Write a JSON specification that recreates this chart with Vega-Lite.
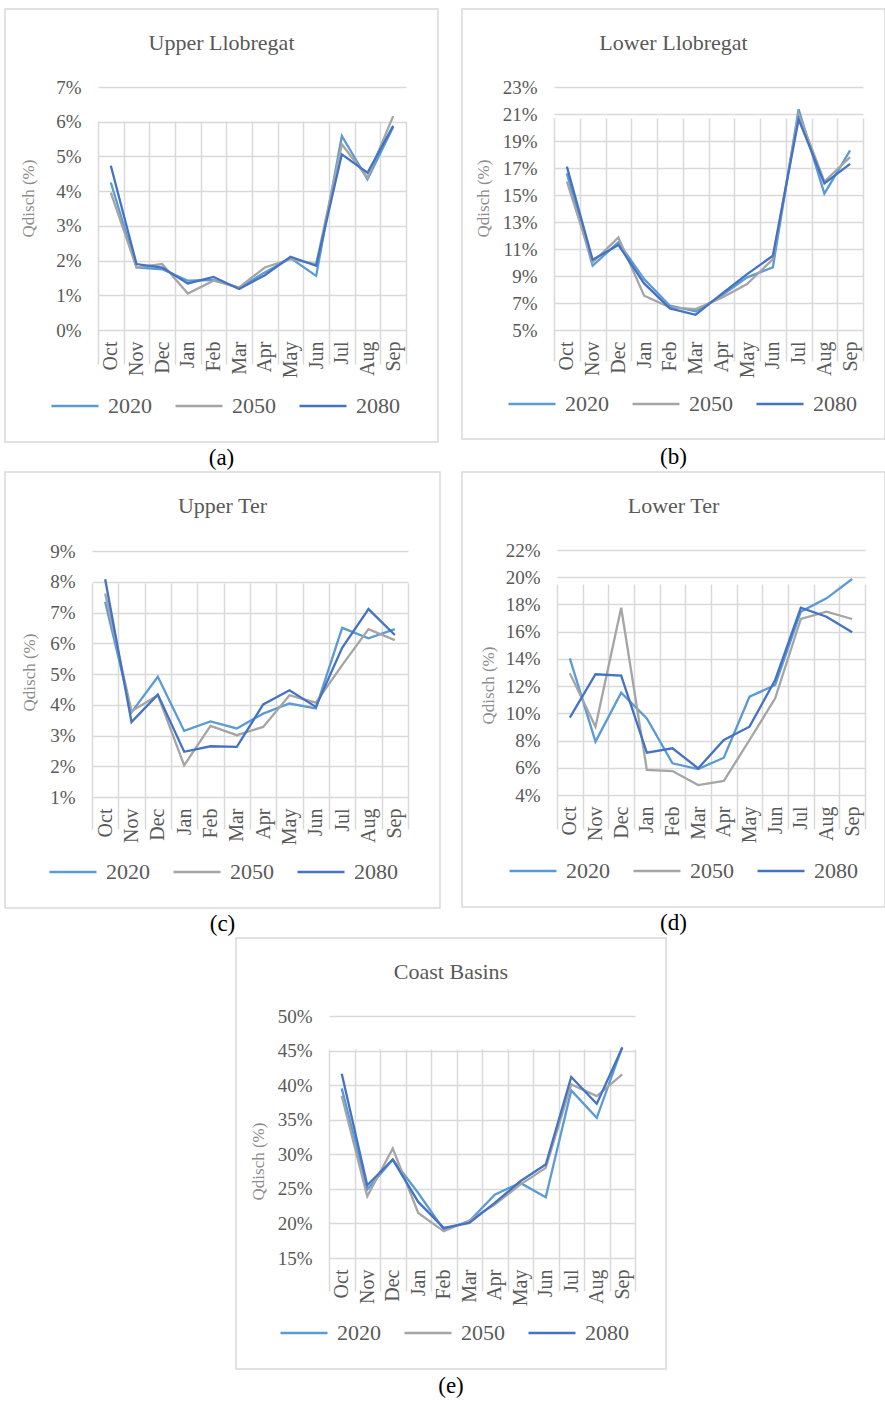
{
  "$schema": "https://vega.github.io/schema/vega-lite/v6.json",
  "background": "white",
  "padding": {"left": -6, "top": 8, "right": 0, "bottom": 0},
  "datasets": {
    "flows": [
      {"basin": "Upper Llobregat", "month": "Oct", "2020": 4.25, "2050": 3.96, "2080": 4.73},
      {"basin": "Upper Llobregat", "month": "Nov", "2020": 1.80, "2050": 1.80, "2080": 1.90},
      {"basin": "Upper Llobregat", "month": "Dec", "2020": 1.75, "2050": 1.90, "2080": 1.80},
      {"basin": "Upper Llobregat", "month": "Jan", "2020": 1.42, "2050": 1.05, "2080": 1.34},
      {"basin": "Upper Llobregat", "month": "Feb", "2020": 1.44, "2050": 1.42, "2080": 1.53},
      {"basin": "Upper Llobregat", "month": "Mar", "2020": 1.21, "2050": 1.23, "2080": 1.18},
      {"basin": "Upper Llobregat", "month": "Apr", "2020": 1.66, "2050": 1.80, "2080": 1.58},
      {"basin": "Upper Llobregat", "month": "May", "2020": 2.07, "2050": 2.04, "2080": 2.11},
      {"basin": "Upper Llobregat", "month": "Jun", "2020": 1.56, "2050": 1.90, "2080": 1.85},
      {"basin": "Upper Llobregat", "month": "Jul", "2020": 5.59, "2050": 5.35, "2080": 5.06},
      {"basin": "Upper Llobregat", "month": "Aug", "2020": 4.34, "2050": 4.39, "2080": 4.53},
      {"basin": "Upper Llobregat", "month": "Sep", "2020": 5.85, "2050": 6.16, "2080": 5.88},
      {"basin": "Lower Llobregat", "month": "Oct", "2020": 16.6, "2050": 16.0, "2080": 17.1},
      {"basin": "Lower Llobregat", "month": "Nov", "2020": 9.76, "2050": 10.0, "2080": 10.2},
      {"basin": "Lower Llobregat", "month": "Dec", "2020": 11.5, "2050": 11.85, "2080": 11.3},
      {"basin": "Lower Llobregat", "month": "Jan", "2020": 8.77, "2050": 7.54, "2080": 8.45},
      {"basin": "Lower Llobregat", "month": "Feb", "2020": 6.8, "2050": 6.68, "2080": 6.6},
      {"basin": "Lower Llobregat", "month": "Mar", "2020": 6.38, "2050": 6.55, "2080": 6.13},
      {"basin": "Lower Llobregat", "month": "Apr", "2020": 7.54, "2050": 7.37, "2080": 7.66},
      {"basin": "Lower Llobregat", "month": "May", "2020": 8.9, "2050": 8.4, "2080": 9.14},
      {"basin": "Lower Llobregat", "month": "Jun", "2020": 9.64, "2050": 10.25, "2080": 10.5},
      {"basin": "Lower Llobregat", "month": "Jul", "2020": 21.35, "2050": 21.0, "2080": 20.6},
      {"basin": "Lower Llobregat", "month": "Aug", "2020": 15.1, "2050": 16.0, "2080": 15.85},
      {"basin": "Lower Llobregat", "month": "Sep", "2020": 18.3, "2050": 17.8, "2080": 17.3},
      {"basin": "Upper Ter", "month": "Oct", "2020": 7.35, "2050": 7.62, "2080": 8.08},
      {"basin": "Upper Ter", "month": "Nov", "2020": 3.75, "2050": 3.79, "2080": 3.44},
      {"basin": "Upper Ter", "month": "Dec", "2020": 4.91, "2050": 4.31, "2080": 4.33},
      {"basin": "Upper Ter", "month": "Jan", "2020": 3.15, "2050": 2.03, "2080": 2.47},
      {"basin": "Upper Ter", "month": "Feb", "2020": 3.46, "2050": 3.31, "2080": 2.65},
      {"basin": "Upper Ter", "month": "Mar", "2020": 3.23, "2050": 3.01, "2080": 2.63},
      {"basin": "Upper Ter", "month": "Apr", "2020": 3.71, "2050": 3.28, "2080": 4.01},
      {"basin": "Upper Ter", "month": "May", "2020": 4.04, "2050": 4.31, "2080": 4.47},
      {"basin": "Upper Ter", "month": "Jun", "2020": 3.88, "2050": 4.07, "2080": 3.93},
      {"basin": "Upper Ter", "month": "Jul", "2020": 6.5, "2050": 5.29, "2080": 5.85},
      {"basin": "Upper Ter", "month": "Aug", "2020": 6.16, "2050": 6.46, "2080": 7.11},
      {"basin": "Upper Ter", "month": "Sep", "2020": 6.46, "2050": 6.1, "2080": 6.27},
      {"basin": "Lower Ter", "month": "Oct", "2020": 14.04, "2050": 12.94, "2080": 9.68},
      {"basin": "Lower Ter", "month": "Nov", "2020": 7.92, "2050": 9.02, "2080": 12.87},
      {"basin": "Lower Ter", "month": "Dec", "2020": 11.52, "2050": 17.76, "2080": 12.77},
      {"basin": "Lower Ter", "month": "Jan", "2020": 9.63, "2050": 5.84, "2080": 7.11},
      {"basin": "Lower Ter", "month": "Feb", "2020": 6.33, "2050": 5.76, "2080": 7.43},
      {"basin": "Lower Ter", "month": "Mar", "2020": 5.91, "2050": 4.73, "2080": 5.96},
      {"basin": "Lower Ter", "month": "Apr", "2020": 6.74, "2050": 5.03, "2080": 8.04},
      {"basin": "Lower Ter", "month": "May", "2020": 11.22, "2050": 8.04, "2080": 9.02},
      {"basin": "Lower Ter", "month": "Jun", "2020": 12.08, "2050": 11.1, "2080": 12.45},
      {"basin": "Lower Ter", "month": "Jul", "2020": 17.47, "2050": 16.93, "2080": 17.76},
      {"basin": "Lower Ter", "month": "Aug", "2020": 18.45, "2050": 17.47, "2080": 17.1},
      {"basin": "Lower Ter", "month": "Sep", "2020": 19.87, "2050": 16.93, "2080": 15.95},
      {"basin": "Coast Basins", "month": "Oct", "2020": 39.53, "2050": 38.42, "2080": 41.65},
      {"basin": "Coast Basins", "month": "Nov", "2020": 24.9, "2050": 23.93, "2080": 25.53},
      {"basin": "Coast Basins", "month": "Dec", "2020": 29.24, "2050": 30.84, "2080": 29.24},
      {"basin": "Coast Basins", "month": "Jan", "2020": 24.4, "2050": 21.52, "2080": 23.11},
      {"basin": "Coast Basins", "month": "Feb", "2020": 19.1, "2050": 18.86, "2080": 19.35},
      {"basin": "Coast Basins", "month": "Mar", "2020": 20.3, "2050": 20.41, "2080": 20.07},
      {"basin": "Coast Basins", "month": "Apr", "2020": 24.17, "2050": 22.73, "2080": 22.97},
      {"basin": "Coast Basins", "month": "May", "2020": 25.86, "2050": 25.62, "2080": 26.1},
      {"basin": "Coast Basins", "month": "Jun", "2020": 23.79, "2050": 28.04, "2080": 28.52},
      {"basin": "Coast Basins", "month": "Jul", "2020": 39.24, "2050": 40.1, "2080": 41.17},
      {"basin": "Coast Basins", "month": "Aug", "2020": 35.28, "2050": 38.42, "2080": 37.31},
      {"basin": "Coast Basins", "month": "Sep", "2020": 45.5, "2050": 41.56, "2080": 45.42}
    ]
  },
  "vconcat": [
    {
      "hconcat": [
        {
          "width": 433, "height": 433,
          "data": {"name": "flows"},
          "transform": [
            {"filter": "datum.basin === 'Upper Llobregat'"},
            {"fold": ["2020", "2050", "2080"], "as": ["year", "q"]}
          ],
          "title": {"text": "Upper Llobregat", "subtitle": "(a)", "offset": -409, "subtitlePadding": 392},
          "mark": {"type": "line", "strokeWidth": 2.3},
          "encoding": {
            "x": {"field": "month", "type": "nominal", "sort": ["Oct","Nov","Dec","Jan","Feb","Mar","Apr","May","Jun","Jul","Aug","Sep"],
                  "scale": {"type": "band", "range": [93, 401], "paddingInner": 0, "paddingOuter": 0},
                  "axis": {"title": null, "offset": -112, "tickBand": "extent"}},
            "y": {"field": "q", "type": "quantitative",
                  "scale": {"domain": [0, 7], "range": [321, 78], "nice": false, "zero": false},
                  "axis": {"title": "Qdisch (%)", "offset": -93, "values": [0,1,2,3,4,5,6,7], "labelExpr": "datum.value + '%'", "titleX": -70, "titleY": 189}},
            "color": {"field": "year", "type": "nominal",
                      "scale": {"domain": ["2020","2050","2080"], "range": ["#5b9bd5","#a5a5a5","#4472c4"]},
                      "legend": {"legendX": 45, "legendY": 372}}
          }
        },
        {
          "width": 423, "height": 430,
          "data": {"name": "flows"},
          "transform": [
            {"filter": "datum.basin === 'Lower Llobregat'"},
            {"fold": ["2020", "2050", "2080"], "as": ["year", "q"]}
          ],
          "title": {"text": "Lower Llobregat", "subtitle": "(b)", "offset": -406, "subtitlePadding": 391},
          "mark": {"type": "line", "strokeWidth": 2.3},
          "encoding": {
            "x": {"field": "month", "type": "nominal", "sort": ["Oct","Nov","Dec","Jan","Feb","Mar","Apr","May","Jun","Jul","Aug","Sep"],
                  "scale": {"type": "band", "range": [92, 401], "paddingInner": 0, "paddingOuter": 0},
                  "axis": {"title": null, "offset": -109, "tickBand": "extent"}},
            "y": {"field": "q", "type": "quantitative",
                  "scale": {"domain": [5, 23], "range": [321, 78], "nice": false, "zero": false},
                  "axis": {"title": "Qdisch (%)", "offset": -92, "values": [5,7,9,11,13,15,17,19,21,23], "labelExpr": "datum.value + '%'", "titleX": -71, "titleY": 189}},
            "color": {"field": "year", "type": "nominal",
                      "scale": {"domain": ["2020","2050","2080"], "range": ["#5b9bd5","#a5a5a5","#4472c4"]},
                      "legend": {"legendX": 45, "legendY": 370}}
          }
        }
      ],
      "spacing": 12,
      "resolve": {"scale": {"color": "independent"}}
    },
    {
      "hconcat": [
        {
          "width": 435, "height": 436,
          "data": {"name": "flows"},
          "transform": [
            {"filter": "datum.basin === 'Upper Ter'"},
            {"fold": ["2020", "2050", "2080"], "as": ["year", "q"]}
          ],
          "title": {"text": "Upper Ter", "subtitle": "(c)", "offset": -412, "subtitlePadding": 395},
          "mark": {"type": "line", "strokeWidth": 2.3},
          "encoding": {
            "x": {"field": "month", "type": "nominal", "sort": ["Oct","Nov","Dec","Jan","Feb","Mar","Apr","May","Jun","Jul","Aug","Sep"],
                  "scale": {"type": "band", "range": [87, 403], "paddingInner": 0, "paddingOuter": 0},
                  "axis": {"title": null, "offset": -111, "tickBand": "extent"}},
            "y": {"field": "q", "type": "quantitative",
                  "scale": {"domain": [1, 9], "range": [325, 79], "nice": false, "zero": false},
                  "axis": {"title": "Qdisch (%)", "offset": -87, "values": [1,2,3,4,5,6,7,8,9], "labelExpr": "datum.value + '%'", "titleX": -63, "titleY": 200}},
            "color": {"field": "year", "type": "nominal",
                      "scale": {"domain": ["2020","2050","2080"], "range": ["#5b9bd5","#a5a5a5","#4472c4"]},
                      "legend": {"legendX": 43, "legendY": 375}}
          }
        },
        {
          "width": 423, "height": 435,
          "data": {"name": "flows"},
          "transform": [
            {"filter": "datum.basin === 'Lower Ter'"},
            {"fold": ["2020", "2050", "2080"], "as": ["year", "q"]}
          ],
          "title": {"text": "Lower Ter", "subtitle": "(d)", "offset": -411, "subtitlePadding": 394},
          "mark": {"type": "line", "strokeWidth": 2.3},
          "encoding": {
            "x": {"field": "month", "type": "nominal", "sort": ["Oct","Nov","Dec","Jan","Feb","Mar","Apr","May","Jun","Jul","Aug","Sep"],
                  "scale": {"type": "band", "range": [95, 403], "paddingInner": 0, "paddingOuter": 0},
                  "axis": {"title": null, "offset": -112, "tickBand": "extent"}},
            "y": {"field": "q", "type": "quantitative",
                  "scale": {"domain": [4, 22], "range": [323, 78], "nice": false, "zero": false},
                  "axis": {"title": "Qdisch (%)", "offset": -95, "values": [4,6,8,10,12,14,16,18,20,22], "labelExpr": "datum.value + '%'", "titleX": -69, "titleY": 213}},
            "color": {"field": "year", "type": "nominal",
                      "scale": {"domain": ["2020","2050","2080"], "range": ["#5b9bd5","#a5a5a5","#4472c4"]},
                      "legend": {"legendX": 46, "legendY": 374}}
          }
        }
      ],
      "spacing": 10,
      "resolve": {"scale": {"color": "independent"}}
    },
    {
      "hconcat": [
        {
          "width": 210, "height": 10,
          "data": {"values": []},
          "mark": "point",
          "view": {"stroke": null}
        },
        {
          "width": 430, "height": 431,
          "data": {"name": "flows"},
          "transform": [
            {"filter": "datum.basin === 'Coast Basins'"},
            {"fold": ["2020", "2050", "2080"], "as": ["year", "q"]}
          ],
          "title": {"text": "Coast Basins", "subtitle": "(e)", "offset": -407, "subtitlePadding": 391},
          "mark": {"type": "line", "strokeWidth": 2.3},
          "encoding": {
            "x": {"field": "month", "type": "nominal", "sort": ["Oct","Nov","Dec","Jan","Feb","Mar","Apr","May","Jun","Jul","Aug","Sep"],
                  "scale": {"type": "band", "range": [93, 399], "paddingInner": 0, "paddingOuter": 0},
                  "axis": {"title": null, "offset": -111, "tickBand": "extent"}},
            "y": {"field": "q", "type": "quantitative",
                  "scale": {"domain": [15, 50], "range": [320, 78], "nice": false, "zero": false},
                  "axis": {"title": "Qdisch (%)", "offset": -93, "values": [15,20,25,30,35,40,45,50], "labelExpr": "datum.value + '%'", "titleX": -71, "titleY": 223}},
            "color": {"field": "year", "type": "nominal",
                      "scale": {"domain": ["2020","2050","2080"], "range": ["#5b9bd5","#a5a5a5","#4472c4"]},
                      "legend": {"legendX": 43, "legendY": 370}}
          }
        }
      ],
      "spacing": 10,
      "resolve": {"scale": {"color": "independent"}}
    }
  ],
  "spacing": 0,
  "resolve": {"scale": {"color": "independent"}},
  "config": {
    "font": "Liberation Serif",
    "view": {"stroke": "#d9d9d9", "strokeWidth": 1.5},
    "title": {
      "orient": "bottom", "anchor": "middle", "frame": "group", "baseline": "top",
      "fontSize": 22, "fontWeight": "normal", "color": "#595959", "font": "Liberation Serif",
      "subtitleFont": "Liberation Serif", "subtitleFontSize": 23, "subtitleColor": "#000000", "subtitleFontWeight": "normal"
    },
    "axis": {
      "grid": true, "gridColor": "#d9d9d9", "gridWidth": 1.5,
      "domain": false, "ticks": false, "tickSize": 0,
      "labelFont": "Liberation Serif", "labelColor": "#595959",
      "titleFont": "Liberation Serif", "titleColor": "#8c8c8c", "titleFontWeight": "normal"
    },
    "axisX": {"labelFontSize": 20, "labelAngle": -90, "labelPadding": 11, "labelOverlap": false},
    "axisY": {"labelFontSize": 19, "labelPadding": 17, "titleFontSize": 17, "titleBaseline": "middle", "titleAngle": -90},
    "legend": {
      "orient": "none", "direction": "horizontal", "title": null,
      "symbolType": "stroke", "symbolSize": 2209, "symbolStrokeWidth": 2.5,
      "labelFont": "Liberation Serif", "labelFontSize": 22, "labelColor": "#595959",
      "labelOffset": 8, "columnPadding": 18
    }
  }
}
